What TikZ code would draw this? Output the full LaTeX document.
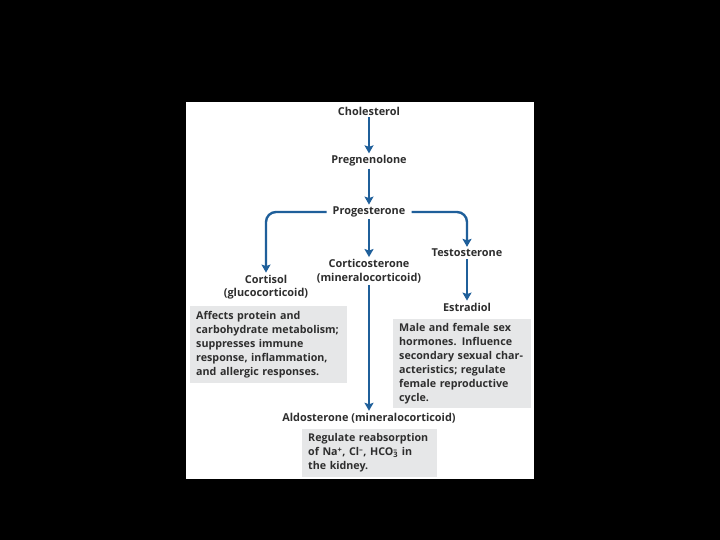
\documentclass[tikz,border=0pt]{standalone}
\usepackage{fontspec}
\setmainfont{Open Sans}
\usepackage{tikz}
\usepackage{xcolor}
\usetikzlibrary{arrows.meta}
\definecolor{pathblue}{HTML}{1F5F9A}
\definecolor{notegray}{HTML}{E6E7E8}
\definecolor{inkgray}{HTML}{2E2E2E}
\tikzset{
  hormone/.style={font=\fontsize{10.9}{13.5}\selectfont\bfseries, text=inkgray, align=center, inner sep=2pt},
  note/.style={font=\fontsize{10.7}{14}\selectfont\bfseries, text=inkgray, align=left, fill=notegray, anchor=north west, inner xsep=6pt, inner ysep=4pt},
  flow/.style={draw=pathblue, line width=2.4pt, -{Stealth[length=8pt,width=9pt,inset=1.5pt]}}
}
\begin{document}
\begin{tikzpicture}[x=1pt,y=-1pt]
      \fill[black] (0,0) rectangle (720,540);
      \fill[white] (186,102) rectangle (534,479);
      \useasboundingbox (0,0) rectangle (720,540);
      \node (chol) [hormone] at (369,111) {Cholesterol};
      \node (preg) [hormone] at (369,161) {Pregnenolone};
      \node (prog) [hormone, inner xsep=6pt] at (369,212) {Progesterone};
      \draw [flow] (chol) -- (preg);
      \draw [flow] (preg) -- (prog);
%%
      \node (cort) [hormone] at (266,287) {Cortisol\\(glucocorticoid)};
      \node (cost) [hormone] at (369,271) {Corticosterone\\(mineralocorticoid)};
      \node (test) [hormone] at (467,253) {Testosterone};
      \node (estr) [hormone] at (467,307) {Estradiol};
      \node (aldo) [hormone] at (369,418) {Aldosterone (mineralocorticoid)};
      \draw [flow, rounded corners=10pt] (prog.west) -| (cort.north);
      \draw [flow, rounded corners=10pt] (prog.east) -| (test.north);
      \draw [flow] (prog) -- (cost);
      \draw [flow] (test) -- (estr);
      \draw [flow] (cost) -- (aldo);
%%
      \node (cortnote) [note, text width=145pt, minimum height=77pt] at (190,306) {Affects protein and\\carbohydrate metabolism;\\suppresses immune\\response, inflammation,\\and allergic responses.};
      \node (estrnote) [note, text width=126pt, minimum height=89pt] at (393,319) {Male and female sex\\hormones. Influence\\secondary sexual char-\\acteristics; regulate\\female reproductive\\cycle.};
      \node (aldonote) [note, text width=123pt, minimum height=48pt] at (302,429) {Regulate reabsorption\\of Na\textsuperscript{+}, Cl\textsuperscript{--}, HCO\rlap{\textsuperscript{--}}\textsubscript{3}\,\,in\\the kidney.};
    \end{tikzpicture}
\end{document}
